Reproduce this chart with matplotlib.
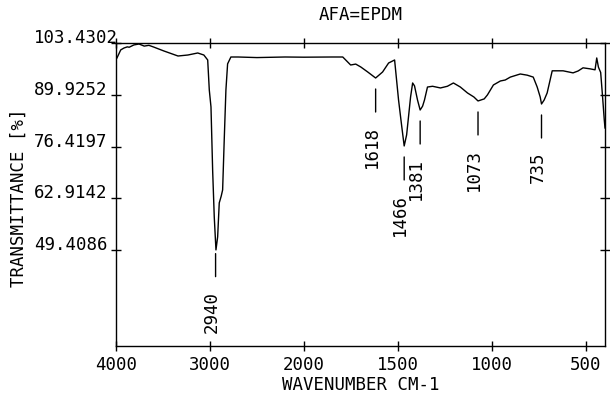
import numpy as np
import matplotlib
matplotlib.use('Agg')
import matplotlib.pyplot as plt
from matplotlib.transforms import offset_copy

plt.rcParams['font.family'] = ['DejaVu Sans Mono']

# IR spectrum (wavenumber cm-1, transmittance %)
wavenumber = [3990, 3950, 3915, 3880, 3860, 3810, 3755, 3700, 3650, 3600, 3490,
              3340, 3235, 3130, 3065, 3024, 3007, 2989, 2971, 2954, 2936, 2918,
              2901, 2880, 2865, 2848, 2830, 2812, 2777, 2700, 2500, 2200, 2000,
              1850, 1793, 1751, 1724, 1697, 1660, 1618, 1581, 1549, 1517, 1496,
              1480, 1466, 1453, 1443, 1432, 1421, 1411, 1395, 1381, 1368, 1358,
              1342, 1315, 1273, 1236, 1204, 1167, 1129, 1095, 1073, 1040, 1023,
              991, 954, 928, 901, 848, 811, 779, 758, 742, 735, 721, 705, 678,
              620, 567, 540, 514, 477, 450, 441, 432, 420, 410, 401, 397]
transmittance = [99.6, 101.7, 102.2, 102.5, 102.4, 103.0, 103.25, 102.7, 102.9,
                 102.46, 101.42, 100.11, 100.37, 100.9, 100.37, 99.07, 91.23,
                 86.8, 70.0, 58.0, 49.43, 52.85, 61.72, 63.5, 65.11, 78.17,
                 91.23, 98.06, 99.85, 99.85, 99.7, 99.85, 99.8, 99.85, 99.85,
                 97.76, 98.0, 97.24, 95.93, 94.36, 95.93, 98.28, 99.07, 88.62,
                 82.1, 76.6, 79.5, 84.2, 89.4, 93.06, 92.3, 88.6, 86.0, 87.0,
                 88.6, 92.0, 92.2, 91.76, 92.2, 93.06, 92.0, 90.45, 89.4, 88.36,
                 88.9, 89.93, 92.54, 93.58, 93.84, 94.6, 95.41, 95.1, 94.6, 92.0,
                 89.4, 87.57, 88.6, 90.45, 96.24, 96.24, 95.7, 96.2, 97.02, 96.76,
                 96.5, 99.6, 97.2, 95.8, 89.5, 83.5, 81.3]

peak_labels = ['2940', '1618', '1466', '1381', '1073', '735']
peak_positions = [2940, 1618, 1466, 1381, 1073, 735]

x_ticks = [4000, 3000, 2000, 1500, 1000, 500]
y_ticks = [103.4302, 89.9252, 76.4197, 62.9142, 49.4086]
y_tick_labels = ['103.4302', '89.9252', '76.4197', '62.9142', '49.4086']

FS = 12.5


def fwd(x):
    # IR chart convention: scale doubles below 2000 cm-1
    x = np.asarray(x, dtype=float)
    return np.where(x >= 2000, x, 2 * x - 2000)


def inv(u):
    u = np.asarray(u, dtype=float)
    return np.where(u >= 2000, u, (u + 2000) / 2)


fig = plt.figure(figsize=(6.1, 3.94), dpi=100)
ax = fig.add_axes([0.1902, 0.1226, 0.8016, 0.7675])

ax.set_xscale('function', functions=(fwd, inv))
ax.plot(wavenumber, transmittance, color='black', linewidth=1.0)
ax.set_xlim(4000, 397)
ax.set_ylim(24.4, 103.4302)

# peak marks: short vertical dash under each band, rotated label below it
line_top = offset_copy(ax.transData, fig=fig, x=0, y=-11, units='dots')
line_bot = offset_copy(ax.transData, fig=fig, x=0, y=-34, units='dots')
for lab, pos in zip(peak_labels, peak_positions):
    t_min = np.interp(pos, wavenumber[::-1], transmittance[::-1])
    ax.annotate('', xy=(pos, t_min), xycoords=line_top,
                xytext=(pos, t_min), textcoords=line_bot,
                arrowprops=dict(arrowstyle='-', color='black', lw=1.0,
                                shrinkA=0, shrinkB=0))
    ax.annotate(lab, xy=(pos, t_min), xytext=(-4, -48),
                textcoords='offset pixels', rotation=90,
                ha='center', va='top', fontsize=FS)

ax.set_xticks(x_ticks)
ax.set_xticklabels([str(v) for v in x_ticks])
ax.set_yticks(y_ticks, labels=y_tick_labels, ha='left', va='baseline')

ax.tick_params(axis='x', direction='inout', length=7, width=1, top=True,
               labelsize=FS, pad=4)
ax.tick_params(axis='y', direction='inout', length=7, width=1, right=True,
               labelsize=FS, pad=55.5)
for sp in ax.spines.values():
    sp.set_linewidth(1.0)

ax.set_title('AFA=EPDM', fontsize=FS, pad=17)
ax.set_xlabel('WAVENUMBER CM-1', fontsize=FS, labelpad=1)
ax.set_ylabel('TRANSMITTANCE [%]', fontsize=FS)
ax.yaxis.set_label_coords(-0.18, 0.49)

fig.savefig('out.png', dpi=100)
